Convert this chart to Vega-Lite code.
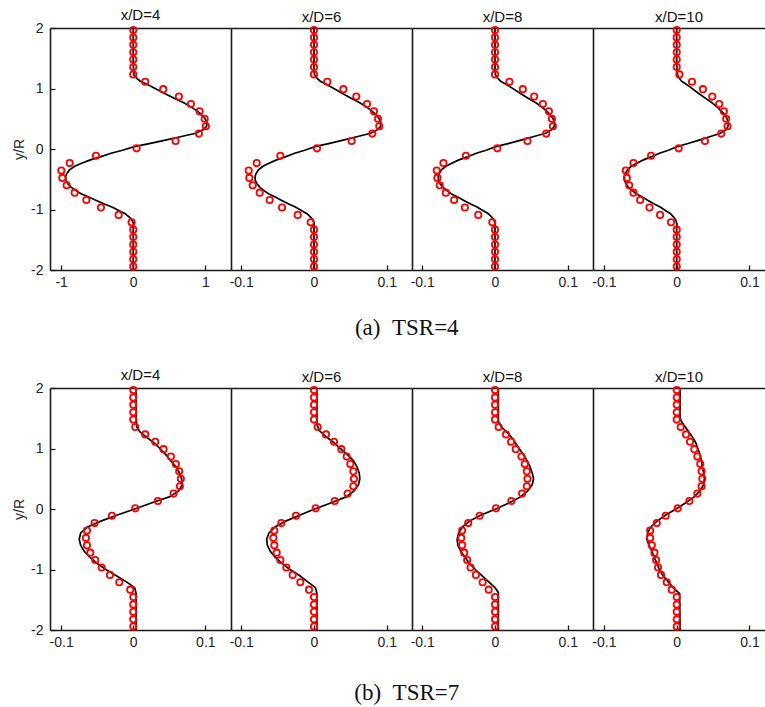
{
"$schema": "https://vega.github.io/schema/vega-lite/v6.json",
"padding": {"left": 12, "top": 8, "right": 0, "bottom": 0},
"background": "white",
"config": {
  "view": {"stroke": null},
  "title": {"font": "Liberation Sans", "fontSize": 15, "fontWeight": "normal", "color": "#111", "offset": -2},
  "axis": {"domainColor": "#1a1a1a", "domainWidth": 1.6, "tickColor": "#1a1a1a", "tickWidth": 1.3, "tickSize": -5, "labelFont": "Liberation Sans", "labelFontSize": 14, "labelColor": "#222", "labelPadding": 10, "labelFlush": false, "grid": false, "titleFont": "Liberation Sans", "titleFontSize": 14, "titleFontWeight": "normal", "titleColor": "#222"}
},
"datasets": {
"pts": [
{"t":4,"d":4,"y":1.966,"u":0},{"t":4,"d":4,"y":1.844,"u":0},{"t":4,"d":4,"y":1.722,"u":0},{"t":4,"d":4,"y":1.6,"u":0},{"t":4,"d":4,"y":1.478,"u":0},{"t":4,"d":4,"y":1.355,"u":0},{"t":4,"d":4,"y":1.233,"u":0},{"t":4,"d":4,"y":1.111,"u":0.166},{"t":4,"d":4,"y":0.989,"u":0.416},{"t":4,"d":4,"y":0.866,"u":0.633},{"t":4,"d":4,"y":0.744,"u":0.8},{"t":4,"d":4,"y":0.622,"u":0.92},{"t":4,"d":4,"y":0.5,"u":0.99},{"t":4,"d":4,"y":0.377,"u":1.007},{"t":4,"d":4,"y":0.255,"u":0.91},{"t":4,"d":4,"y":0.133,"u":0.587},{"t":4,"d":4,"y":0.011,"u":0.046},{"t":4,"d":4,"y":-0.111,"u":-0.517},{"t":4,"d":4,"y":-0.233,"u":-0.882},{"t":4,"d":4,"y":-0.355,"u":-0.998},{"t":4,"d":4,"y":-0.478,"u":-0.984},{"t":4,"d":4,"y":-0.6,"u":-0.924},{"t":4,"d":4,"y":-0.722,"u":-0.813},{"t":4,"d":4,"y":-0.844,"u":-0.651},{"t":4,"d":4,"y":-0.967,"u":-0.448},{"t":4,"d":4,"y":-1.089,"u":-0.203},{"t":4,"d":4,"y":-1.211,"u":-0.023},{"t":4,"d":4,"y":-1.333,"u":0},{"t":4,"d":4,"y":-1.455,"u":0},{"t":4,"d":4,"y":-1.578,"u":0},{"t":4,"d":4,"y":-1.7,"u":0},{"t":4,"d":4,"y":-1.822,"u":0},{"t":4,"d":4,"y":-1.944,"u":0},
{"t":4,"d":6,"y":1.966,"u":0},{"t":4,"d":6,"y":1.844,"u":0},{"t":4,"d":6,"y":1.722,"u":0},{"t":4,"d":6,"y":1.6,"u":0},{"t":4,"d":6,"y":1.478,"u":0},{"t":4,"d":6,"y":1.355,"u":0},{"t":4,"d":6,"y":1.233,"u":0},{"t":4,"d":6,"y":1.111,"u":0.0183},{"t":4,"d":6,"y":0.989,"u":0.0403},{"t":4,"d":6,"y":0.866,"u":0.0581},{"t":4,"d":6,"y":0.744,"u":0.0728},{"t":4,"d":6,"y":0.622,"u":0.0824},{"t":4,"d":6,"y":0.5,"u":0.0879},{"t":4,"d":6,"y":0.377,"u":0.0897},{"t":4,"d":6,"y":0.255,"u":0.0801},{"t":4,"d":6,"y":0.133,"u":0.0517},{"t":4,"d":6,"y":0.011,"u":0.0041},{"t":4,"d":6,"y":-0.111,"u":-0.0462},{"t":4,"d":6,"y":-0.233,"u":-0.0787},{"t":4,"d":6,"y":-0.355,"u":-0.0897},{"t":4,"d":6,"y":-0.478,"u":-0.0888},{"t":4,"d":6,"y":-0.6,"u":-0.0842},{"t":4,"d":6,"y":-0.722,"u":-0.0746},{"t":4,"d":6,"y":-0.844,"u":-0.0609},{"t":4,"d":6,"y":-0.967,"u":-0.0439},{"t":4,"d":6,"y":-1.089,"u":-0.0224},{"t":4,"d":6,"y":-1.211,"u":-0.0046},{"t":4,"d":6,"y":-1.333,"u":0},{"t":4,"d":6,"y":-1.455,"u":0},{"t":4,"d":6,"y":-1.578,"u":0},{"t":4,"d":6,"y":-1.7,"u":0},{"t":4,"d":6,"y":-1.822,"u":0},{"t":4,"d":6,"y":-1.944,"u":0},
{"t":4,"d":8,"y":1.966,"u":0},{"t":4,"d":8,"y":1.844,"u":0},{"t":4,"d":8,"y":1.722,"u":0},{"t":4,"d":8,"y":1.6,"u":0},{"t":4,"d":8,"y":1.478,"u":0},{"t":4,"d":8,"y":1.355,"u":0},{"t":4,"d":8,"y":1.233,"u":0},{"t":4,"d":8,"y":1.111,"u":0.0198},{"t":4,"d":8,"y":0.989,"u":0.0382},{"t":4,"d":8,"y":0.866,"u":0.0538},{"t":4,"d":8,"y":0.744,"u":0.0657},{"t":4,"d":8,"y":0.622,"u":0.074},{"t":4,"d":8,"y":0.5,"u":0.0782},{"t":4,"d":8,"y":0.377,"u":0.0795},{"t":4,"d":8,"y":0.255,"u":0.0703},{"t":4,"d":8,"y":0.133,"u":0.0446},{"t":4,"d":8,"y":0.011,"u":0.0032},{"t":4,"d":8,"y":-0.111,"u":-0.04},{"t":4,"d":8,"y":-0.233,"u":-0.0708},{"t":4,"d":8,"y":-0.355,"u":-0.08},{"t":4,"d":8,"y":-0.478,"u":-0.0791},{"t":4,"d":8,"y":-0.6,"u":-0.0759},{"t":4,"d":8,"y":-0.722,"u":-0.0676},{"t":4,"d":8,"y":-0.844,"u":-0.0561},{"t":4,"d":8,"y":-0.967,"u":-0.0414},{"t":4,"d":8,"y":-1.089,"u":-0.023},{"t":4,"d":8,"y":-1.211,"u":-0.0037},{"t":4,"d":8,"y":-1.333,"u":0},{"t":4,"d":8,"y":-1.455,"u":0},{"t":4,"d":8,"y":-1.578,"u":0},{"t":4,"d":8,"y":-1.7,"u":0},{"t":4,"d":8,"y":-1.822,"u":0},{"t":4,"d":8,"y":-1.944,"u":0},
{"t":4,"d":10,"y":1.966,"u":0},{"t":4,"d":10,"y":1.844,"u":0},{"t":4,"d":10,"y":1.722,"u":0},{"t":4,"d":10,"y":1.6,"u":0},{"t":4,"d":10,"y":1.478,"u":0},{"t":4,"d":10,"y":1.355,"u":0},{"t":4,"d":10,"y":1.233,"u":0.0037},{"t":4,"d":10,"y":1.111,"u":0.021},{"t":4,"d":10,"y":0.989,"u":0.036},{"t":4,"d":10,"y":0.866,"u":0.0489},{"t":4,"d":10,"y":0.744,"u":0.0584},{"t":4,"d":10,"y":0.622,"u":0.0648},{"t":4,"d":10,"y":0.5,"u":0.068},{"t":4,"d":10,"y":0.377,"u":0.0699},{"t":4,"d":10,"y":0.255,"u":0.0612},{"t":4,"d":10,"y":0.133,"u":0.0388},{"t":4,"d":10,"y":0.011,"u":0.0027},{"t":4,"d":10,"y":-0.111,"u":-0.0352},{"t":4,"d":10,"y":-0.233,"u":-0.0594},{"t":4,"d":10,"y":-0.355,"u":-0.0699},{"t":4,"d":10,"y":-0.478,"u":-0.0685},{"t":4,"d":10,"y":-0.6,"u":-0.0653},{"t":4,"d":10,"y":-0.722,"u":-0.0594},{"t":4,"d":10,"y":-0.844,"u":-0.0502},{"t":4,"d":10,"y":-0.967,"u":-0.0374},{"t":4,"d":10,"y":-1.089,"u":-0.0228},{"t":4,"d":10,"y":-1.211,"u":-0.0078},{"t":4,"d":10,"y":-1.333,"u":0},{"t":4,"d":10,"y":-1.455,"u":0},{"t":4,"d":10,"y":-1.578,"u":0},{"t":4,"d":10,"y":-1.7,"u":0},{"t":4,"d":10,"y":-1.822,"u":0},{"t":4,"d":10,"y":-1.944,"u":0},
{"t":7,"d":4,"y":1.966,"u":0},{"t":7,"d":4,"y":1.844,"u":0},{"t":7,"d":4,"y":1.722,"u":0},{"t":7,"d":4,"y":1.6,"u":0},{"t":7,"d":4,"y":1.478,"u":0},{"t":7,"d":4,"y":1.355,"u":0.0028},{"t":7,"d":4,"y":1.233,"u":0.0166},{"t":7,"d":4,"y":1.111,"u":0.0305},{"t":7,"d":4,"y":0.989,"u":0.042},{"t":7,"d":4,"y":0.866,"u":0.0522},{"t":7,"d":4,"y":0.744,"u":0.0591},{"t":7,"d":4,"y":0.622,"u":0.0637},{"t":7,"d":4,"y":0.5,"u":0.066},{"t":7,"d":4,"y":0.377,"u":0.0647},{"t":7,"d":4,"y":0.255,"u":0.0559},{"t":7,"d":4,"y":0.133,"u":0.0342},{"t":7,"d":4,"y":0.011,"u":0.0028},{"t":7,"d":4,"y":-0.111,"u":-0.0296},{"t":7,"d":4,"y":-0.233,"u":-0.0536},{"t":7,"d":4,"y":-0.355,"u":-0.0642},{"t":7,"d":4,"y":-0.478,"u":-0.0656},{"t":7,"d":4,"y":-0.6,"u":-0.0642},{"t":7,"d":4,"y":-0.722,"u":-0.0596},{"t":7,"d":4,"y":-0.844,"u":-0.0527},{"t":7,"d":4,"y":-0.967,"u":-0.0439},{"t":7,"d":4,"y":-1.089,"u":-0.0323},{"t":7,"d":4,"y":-1.211,"u":-0.0194},{"t":7,"d":4,"y":-1.333,"u":-0.0042},{"t":7,"d":4,"y":-1.455,"u":0},{"t":7,"d":4,"y":-1.578,"u":0},{"t":7,"d":4,"y":-1.7,"u":0},{"t":7,"d":4,"y":-1.822,"u":0},{"t":7,"d":4,"y":-1.944,"u":0},
{"t":7,"d":6,"y":1.966,"u":0},{"t":7,"d":6,"y":1.844,"u":0},{"t":7,"d":6,"y":1.722,"u":0},{"t":7,"d":6,"y":1.6,"u":0},{"t":7,"d":6,"y":1.478,"u":0},{"t":7,"d":6,"y":1.355,"u":0.005},{"t":7,"d":6,"y":1.233,"u":0.0165},{"t":7,"d":6,"y":1.111,"u":0.0275},{"t":7,"d":6,"y":0.989,"u":0.0375},{"t":7,"d":6,"y":0.866,"u":0.0449},{"t":7,"d":6,"y":0.744,"u":0.0499},{"t":7,"d":6,"y":0.622,"u":0.054},{"t":7,"d":6,"y":0.5,"u":0.0549},{"t":7,"d":6,"y":0.377,"u":0.054},{"t":7,"d":6,"y":0.255,"u":0.0462},{"t":7,"d":6,"y":0.133,"u":0.0284},{"t":7,"d":6,"y":0.011,"u":0.0023},{"t":7,"d":6,"y":-0.111,"u":-0.0247},{"t":7,"d":6,"y":-0.233,"u":-0.0449},{"t":7,"d":6,"y":-0.355,"u":-0.0545},{"t":7,"d":6,"y":-0.478,"u":-0.0558},{"t":7,"d":6,"y":-0.6,"u":-0.0545},{"t":7,"d":6,"y":-0.722,"u":-0.0513},{"t":7,"d":6,"y":-0.844,"u":-0.0462},{"t":7,"d":6,"y":-0.967,"u":-0.038},{"t":7,"d":6,"y":-1.089,"u":-0.0293},{"t":7,"d":6,"y":-1.211,"u":-0.0188},{"t":7,"d":6,"y":-1.333,"u":-0.0069},{"t":7,"d":6,"y":-1.455,"u":0},{"t":7,"d":6,"y":-1.578,"u":0},{"t":7,"d":6,"y":-1.7,"u":0},{"t":7,"d":6,"y":-1.822,"u":0},{"t":7,"d":6,"y":-1.944,"u":0},
{"t":7,"d":8,"y":1.966,"u":0},{"t":7,"d":8,"y":1.844,"u":0},{"t":7,"d":8,"y":1.722,"u":0},{"t":7,"d":8,"y":1.6,"u":0},{"t":7,"d":8,"y":1.478,"u":0},{"t":7,"d":8,"y":1.355,"u":0.005},{"t":7,"d":8,"y":1.233,"u":0.0152},{"t":7,"d":8,"y":1.111,"u":0.0221},{"t":7,"d":8,"y":0.989,"u":0.0285},{"t":7,"d":8,"y":0.866,"u":0.0363},{"t":7,"d":8,"y":0.744,"u":0.0409},{"t":7,"d":8,"y":0.622,"u":0.0437},{"t":7,"d":8,"y":0.5,"u":0.0446},{"t":7,"d":8,"y":0.377,"u":0.0437},{"t":7,"d":8,"y":0.255,"u":0.0372},{"t":7,"d":8,"y":0.133,"u":0.0225},{"t":7,"d":8,"y":0.011,"u":0.0014},{"t":7,"d":8,"y":-0.111,"u":-0.0211},{"t":7,"d":8,"y":-0.233,"u":-0.0368},{"t":7,"d":8,"y":-0.355,"u":-0.0451},{"t":7,"d":8,"y":-0.478,"u":-0.0464},{"t":7,"d":8,"y":-0.6,"u":-0.0451},{"t":7,"d":8,"y":-0.722,"u":-0.0423},{"t":7,"d":8,"y":-0.844,"u":-0.0382},{"t":7,"d":8,"y":-0.967,"u":-0.0336},{"t":7,"d":8,"y":-1.089,"u":-0.0262},{"t":7,"d":8,"y":-1.211,"u":-0.017},{"t":7,"d":8,"y":-1.333,"u":-0.0087},{"t":7,"d":8,"y":-1.455,"u":0},{"t":7,"d":8,"y":-1.578,"u":0},{"t":7,"d":8,"y":-1.7,"u":0},{"t":7,"d":8,"y":-1.822,"u":0},{"t":7,"d":8,"y":-1.944,"u":0},
{"t":7,"d":10,"y":1.966,"u":0},{"t":7,"d":10,"y":1.844,"u":0},{"t":7,"d":10,"y":1.722,"u":0},{"t":7,"d":10,"y":1.6,"u":0},{"t":7,"d":10,"y":1.478,"u":0},{"t":7,"d":10,"y":1.355,"u":0.0055},{"t":7,"d":10,"y":1.233,"u":0.0128},{"t":7,"d":10,"y":1.111,"u":0.0183},{"t":7,"d":10,"y":0.989,"u":0.0242},{"t":7,"d":10,"y":0.866,"u":0.0283},{"t":7,"d":10,"y":0.744,"u":0.0324},{"t":7,"d":10,"y":0.622,"u":0.0342},{"t":7,"d":10,"y":0.5,"u":0.0352},{"t":7,"d":10,"y":0.377,"u":0.0342},{"t":7,"d":10,"y":0.255,"u":0.0283},{"t":7,"d":10,"y":0.133,"u":0.0174},{"t":7,"d":10,"y":0.011,"u":0.0014},{"t":7,"d":10,"y":-0.111,"u":-0.0151},{"t":7,"d":10,"y":-0.233,"u":-0.0274},{"t":7,"d":10,"y":-0.355,"u":-0.0365},{"t":7,"d":10,"y":-0.478,"u":-0.0365},{"t":7,"d":10,"y":-0.6,"u":-0.0342},{"t":7,"d":10,"y":-0.722,"u":-0.0306},{"t":7,"d":10,"y":-0.844,"u":-0.0283},{"t":7,"d":10,"y":-0.967,"u":-0.0256},{"t":7,"d":10,"y":-1.089,"u":-0.0215},{"t":7,"d":10,"y":-1.211,"u":-0.0137},{"t":7,"d":10,"y":-1.333,"u":-0.0068},{"t":7,"d":10,"y":-1.455,"u":0},{"t":7,"d":10,"y":-1.578,"u":0},{"t":7,"d":10,"y":-1.7,"u":0},{"t":7,"d":10,"y":-1.822,"u":0},{"t":7,"d":10,"y":-1.944,"u":0}
],
"line": [
{"t":4,"d":4,"y":2,"u":0},{"t":4,"d":4,"y":1.4,"u":0},{"t":4,"d":4,"y":1.3,"u":0.005},{"t":4,"d":4,"y":1.22,"u":0.01},{"t":4,"d":4,"y":1.18,"u":0.037},{"t":4,"d":4,"y":1.12,"u":0.097},{"t":4,"d":4,"y":1.07,"u":0.19},{"t":4,"d":4,"y":1.01,"u":0.29},{"t":4,"d":4,"y":0.93,"u":0.416},{"t":4,"d":4,"y":0.84,"u":0.568},{"t":4,"d":4,"y":0.76,"u":0.707},{"t":4,"d":4,"y":0.68,"u":0.822},{"t":4,"d":4,"y":0.59,"u":0.928},{"t":4,"d":4,"y":0.51,"u":0.993},{"t":4,"d":4,"y":0.43,"u":1.025},{"t":4,"d":4,"y":0.37,"u":1.016},{"t":4,"d":4,"y":0.32,"u":0.975},{"t":4,"d":4,"y":0.26,"u":0.868},{"t":4,"d":4,"y":0.21,"u":0.684},{"t":4,"d":4,"y":0.15,"u":0.462},{"t":4,"d":4,"y":0.09,"u":0.222},{"t":4,"d":4,"y":0.04,"u":0.014},{"t":4,"d":4,"y":-0.02,"u":-0.148},{"t":4,"d":4,"y":-0.07,"u":-0.309},{"t":4,"d":4,"y":-0.13,"u":-0.457},{"t":4,"d":4,"y":-0.18,"u":-0.596},{"t":4,"d":4,"y":-0.24,"u":-0.725},{"t":4,"d":4,"y":-0.29,"u":-0.818},{"t":4,"d":4,"y":-0.35,"u":-0.887},{"t":4,"d":4,"y":-0.41,"u":-0.924},{"t":4,"d":4,"y":-0.46,"u":-0.938},{"t":4,"d":4,"y":-0.52,"u":-0.933},{"t":4,"d":4,"y":-0.57,"u":-0.91},{"t":4,"d":4,"y":-0.63,"u":-0.864},{"t":4,"d":4,"y":-0.68,"u":-0.804},{"t":4,"d":4,"y":-0.74,"u":-0.725},{"t":4,"d":4,"y":-0.79,"u":-0.624},{"t":4,"d":4,"y":-0.85,"u":-0.513},{"t":4,"d":4,"y":-0.91,"u":-0.402},{"t":4,"d":4,"y":-0.96,"u":-0.296},{"t":4,"d":4,"y":-1.02,"u":-0.194},{"t":4,"d":4,"y":-1.07,"u":-0.111},{"t":4,"d":4,"y":-1.13,"u":-0.051},{"t":4,"d":4,"y":-1.18,"u":-0.014},{"t":4,"d":4,"y":-1.24,"u":0.005},{"t":4,"d":4,"y":-1.3,"u":0},{"t":4,"d":4,"y":-2,"u":0},
{"t":4,"d":6,"y":2,"u":0},{"t":4,"d":6,"y":1.4,"u":0},{"t":4,"d":6,"y":1.3,"u":0},{"t":4,"d":6,"y":1.22,"u":0.0009},{"t":4,"d":6,"y":1.18,"u":0.0033},{"t":4,"d":6,"y":1.12,"u":0.0087},{"t":4,"d":6,"y":1.07,"u":0.017},{"t":4,"d":6,"y":1.01,"u":0.026},{"t":4,"d":6,"y":0.93,"u":0.0374},{"t":4,"d":6,"y":0.84,"u":0.051},{"t":4,"d":6,"y":0.76,"u":0.0635},{"t":4,"d":6,"y":0.68,"u":0.0738},{"t":4,"d":6,"y":0.59,"u":0.0833},{"t":4,"d":6,"y":0.51,"u":0.0891},{"t":4,"d":6,"y":0.43,"u":0.092},{"t":4,"d":6,"y":0.37,"u":0.0912},{"t":4,"d":6,"y":0.32,"u":0.0875},{"t":4,"d":6,"y":0.26,"u":0.0779},{"t":4,"d":6,"y":0.21,"u":0.0614},{"t":4,"d":6,"y":0.15,"u":0.0415},{"t":4,"d":6,"y":0.09,"u":0.02},{"t":4,"d":6,"y":0.04,"u":0.0013},{"t":4,"d":6,"y":-0.02,"u":-0.0128},{"t":4,"d":6,"y":-0.07,"u":-0.0266},{"t":4,"d":6,"y":-0.13,"u":-0.0394},{"t":4,"d":6,"y":-0.18,"u":-0.0514},{"t":4,"d":6,"y":-0.24,"u":-0.0626},{"t":4,"d":6,"y":-0.29,"u":-0.0706},{"t":4,"d":6,"y":-0.35,"u":-0.0766},{"t":4,"d":6,"y":-0.41,"u":-0.0798},{"t":4,"d":6,"y":-0.46,"u":-0.081},{"t":4,"d":6,"y":-0.52,"u":-0.0806},{"t":4,"d":6,"y":-0.57,"u":-0.0786},{"t":4,"d":6,"y":-0.63,"u":-0.0746},{"t":4,"d":6,"y":-0.68,"u":-0.0694},{"t":4,"d":6,"y":-0.74,"u":-0.0626},{"t":4,"d":6,"y":-0.79,"u":-0.0539},{"t":4,"d":6,"y":-0.85,"u":-0.0443},{"t":4,"d":6,"y":-0.91,"u":-0.0347},{"t":4,"d":6,"y":-0.96,"u":-0.0256},{"t":4,"d":6,"y":-1.02,"u":-0.0168},{"t":4,"d":6,"y":-1.07,"u":-0.0096},{"t":4,"d":6,"y":-1.13,"u":-0.0044},{"t":4,"d":6,"y":-1.18,"u":-0.0012},{"t":4,"d":6,"y":-1.24,"u":0.0004},{"t":4,"d":6,"y":-1.3,"u":0},{"t":4,"d":6,"y":-2,"u":0},
{"t":4,"d":8,"y":2,"u":0},{"t":4,"d":8,"y":1.4,"u":0},{"t":4,"d":8,"y":1.3,"u":0},{"t":4,"d":8,"y":1.22,"u":0.0008},{"t":4,"d":8,"y":1.18,"u":0.003},{"t":4,"d":8,"y":1.12,"u":0.0078},{"t":4,"d":8,"y":1.07,"u":0.0152},{"t":4,"d":8,"y":1.01,"u":0.0232},{"t":4,"d":8,"y":0.93,"u":0.0333},{"t":4,"d":8,"y":0.84,"u":0.0454},{"t":4,"d":8,"y":0.76,"u":0.0566},{"t":4,"d":8,"y":0.68,"u":0.0658},{"t":4,"d":8,"y":0.59,"u":0.0742},{"t":4,"d":8,"y":0.51,"u":0.0795},{"t":4,"d":8,"y":0.43,"u":0.082},{"t":4,"d":8,"y":0.37,"u":0.0813},{"t":4,"d":8,"y":0.32,"u":0.078},{"t":4,"d":8,"y":0.26,"u":0.0695},{"t":4,"d":8,"y":0.21,"u":0.0547},{"t":4,"d":8,"y":0.15,"u":0.037},{"t":4,"d":8,"y":0.09,"u":0.0178},{"t":4,"d":8,"y":0.04,"u":0.0011},{"t":4,"d":8,"y":-0.02,"u":-0.0123},{"t":4,"d":8,"y":-0.07,"u":-0.0257},{"t":4,"d":8,"y":-0.13,"u":-0.038},{"t":4,"d":8,"y":-0.18,"u":-0.0495},{"t":4,"d":8,"y":-0.24,"u":-0.0603},{"t":4,"d":8,"y":-0.29,"u":-0.068},{"t":4,"d":8,"y":-0.35,"u":-0.0738},{"t":4,"d":8,"y":-0.41,"u":-0.0768},{"t":4,"d":8,"y":-0.46,"u":-0.078},{"t":4,"d":8,"y":-0.52,"u":-0.0776},{"t":4,"d":8,"y":-0.57,"u":-0.0757},{"t":4,"d":8,"y":-0.63,"u":-0.0718},{"t":4,"d":8,"y":-0.68,"u":-0.0668},{"t":4,"d":8,"y":-0.74,"u":-0.0603},{"t":4,"d":8,"y":-0.79,"u":-0.0519},{"t":4,"d":8,"y":-0.85,"u":-0.0427},{"t":4,"d":8,"y":-0.91,"u":-0.0335},{"t":4,"d":8,"y":-0.96,"u":-0.0246},{"t":4,"d":8,"y":-1.02,"u":-0.0161},{"t":4,"d":8,"y":-1.07,"u":-0.0092},{"t":4,"d":8,"y":-1.13,"u":-0.0042},{"t":4,"d":8,"y":-1.18,"u":-0.0012},{"t":4,"d":8,"y":-1.24,"u":0.0004},{"t":4,"d":8,"y":-1.3,"u":0},{"t":4,"d":8,"y":-2,"u":0},
{"t":4,"d":10,"y":2,"u":0},{"t":4,"d":10,"y":1.4,"u":0},{"t":4,"d":10,"y":1.3,"u":0.0003},{"t":4,"d":10,"y":1.22,"u":0.0012},{"t":4,"d":10,"y":1.18,"u":0.003},{"t":4,"d":10,"y":1.12,"u":0.0067},{"t":4,"d":10,"y":1.07,"u":0.0131},{"t":4,"d":10,"y":1.01,"u":0.0201},{"t":4,"d":10,"y":0.93,"u":0.0288},{"t":4,"d":10,"y":0.84,"u":0.0393},{"t":4,"d":10,"y":0.76,"u":0.049},{"t":4,"d":10,"y":0.68,"u":0.0569},{"t":4,"d":10,"y":0.59,"u":0.0643},{"t":4,"d":10,"y":0.51,"u":0.0688},{"t":4,"d":10,"y":0.43,"u":0.071},{"t":4,"d":10,"y":0.37,"u":0.0704},{"t":4,"d":10,"y":0.32,"u":0.0675},{"t":4,"d":10,"y":0.26,"u":0.0601},{"t":4,"d":10,"y":0.21,"u":0.0474},{"t":4,"d":10,"y":0.15,"u":0.032},{"t":4,"d":10,"y":0.09,"u":0.0154},{"t":4,"d":10,"y":0.04,"u":0.001},{"t":4,"d":10,"y":-0.02,"u":-0.0114},{"t":4,"d":10,"y":-0.07,"u":-0.0237},{"t":4,"d":10,"y":-0.13,"u":-0.0351},{"t":4,"d":10,"y":-0.18,"u":-0.0457},{"t":4,"d":10,"y":-0.24,"u":-0.0557},{"t":4,"d":10,"y":-0.29,"u":-0.0628},{"t":4,"d":10,"y":-0.35,"u":-0.0681},{"t":4,"d":10,"y":-0.41,"u":-0.0709},{"t":4,"d":10,"y":-0.46,"u":-0.072},{"t":4,"d":10,"y":-0.52,"u":-0.0716},{"t":4,"d":10,"y":-0.57,"u":-0.0698},{"t":4,"d":10,"y":-0.63,"u":-0.0663},{"t":4,"d":10,"y":-0.68,"u":-0.0617},{"t":4,"d":10,"y":-0.74,"u":-0.0557},{"t":4,"d":10,"y":-0.79,"u":-0.0479},{"t":4,"d":10,"y":-0.85,"u":-0.0394},{"t":4,"d":10,"y":-0.91,"u":-0.0309},{"t":4,"d":10,"y":-0.96,"u":-0.0228},{"t":4,"d":10,"y":-1.02,"u":-0.0149},{"t":4,"d":10,"y":-1.07,"u":-0.0085},{"t":4,"d":10,"y":-1.13,"u":-0.0039},{"t":4,"d":10,"y":-1.18,"u":-0.0011},{"t":4,"d":10,"y":-1.24,"u":0.0004},{"t":4,"d":10,"y":-1.3,"u":0},{"t":4,"d":10,"y":-2,"u":0},
{"t":7,"d":4,"y":2,"u":0.004},{"t":7,"d":4,"y":1.5,"u":0.004},{"t":7,"d":4,"y":1.35,"u":0.005},{"t":7,"d":4,"y":1.28,"u":0.009},{"t":7,"d":4,"y":1.2,"u":0.017},{"t":7,"d":4,"y":1.1,"u":0.028},{"t":7,"d":4,"y":1.0,"u":0.037},{"t":7,"d":4,"y":0.9,"u":0.045},{"t":7,"d":4,"y":0.8,"u":0.052},{"t":7,"d":4,"y":0.7,"u":0.059},{"t":7,"d":4,"y":0.6,"u":0.064},{"t":7,"d":4,"y":0.5,"u":0.067},{"t":7,"d":4,"y":0.4,"u":0.068},{"t":7,"d":4,"y":0.3,"u":0.063},{"t":7,"d":4,"y":0.2,"u":0.05},{"t":7,"d":4,"y":0.1,"u":0.025},{"t":7,"d":4,"y":0.0,"u":0.002},{"t":7,"d":4,"y":-0.1,"u":-0.022},{"t":7,"d":4,"y":-0.2,"u":-0.045},{"t":7,"d":4,"y":-0.3,"u":-0.064},{"t":7,"d":4,"y":-0.4,"u":-0.073},{"t":7,"d":4,"y":-0.5,"u":-0.075},{"t":7,"d":4,"y":-0.6,"u":-0.073},{"t":7,"d":4,"y":-0.7,"u":-0.068},{"t":7,"d":4,"y":-0.8,"u":-0.06},{"t":7,"d":4,"y":-0.9,"u":-0.05},{"t":7,"d":4,"y":-1.0,"u":-0.038},{"t":7,"d":4,"y":-1.1,"u":-0.024},{"t":7,"d":4,"y":-1.2,"u":-0.01},{"t":7,"d":4,"y":-1.3,"u":0.002},{"t":7,"d":4,"y":-1.4,"u":0.004},{"t":7,"d":4,"y":-2,"u":0.004},
{"t":7,"d":6,"y":2,"u":0.004},{"t":7,"d":6,"y":1.4,"u":0.004},{"t":7,"d":6,"y":1.3,"u":0.007},{"t":7,"d":6,"y":1.2,"u":0.016},{"t":7,"d":6,"y":1.1,"u":0.027},{"t":7,"d":6,"y":1.0,"u":0.036},{"t":7,"d":6,"y":0.9,"u":0.046},{"t":7,"d":6,"y":0.8,"u":0.054},{"t":7,"d":6,"y":0.7,"u":0.059},{"t":7,"d":6,"y":0.6,"u":0.062},{"t":7,"d":6,"y":0.5,"u":0.063},{"t":7,"d":6,"y":0.4,"u":0.061},{"t":7,"d":6,"y":0.3,"u":0.055},{"t":7,"d":6,"y":0.2,"u":0.044},{"t":7,"d":6,"y":0.1,"u":0.023},{"t":7,"d":6,"y":0.0,"u":0.001},{"t":7,"d":6,"y":-0.1,"u":-0.019},{"t":7,"d":6,"y":-0.2,"u":-0.039},{"t":7,"d":6,"y":-0.3,"u":-0.054},{"t":7,"d":6,"y":-0.4,"u":-0.062},{"t":7,"d":6,"y":-0.5,"u":-0.065},{"t":7,"d":6,"y":-0.6,"u":-0.064},{"t":7,"d":6,"y":-0.7,"u":-0.06},{"t":7,"d":6,"y":-0.8,"u":-0.053},{"t":7,"d":6,"y":-0.9,"u":-0.044},{"t":7,"d":6,"y":-1.0,"u":-0.033},{"t":7,"d":6,"y":-1.1,"u":-0.02},{"t":7,"d":6,"y":-1.2,"u":-0.009},{"t":7,"d":6,"y":-1.3,"u":0.002},{"t":7,"d":6,"y":-1.4,"u":0.004},{"t":7,"d":6,"y":-2,"u":0.004},
{"t":7,"d":8,"y":2,"u":0.0046},{"t":7,"d":8,"y":1.45,"u":0.0046},{"t":7,"d":8,"y":1.35,"u":0.009},{"t":7,"d":8,"y":1.25,"u":0.018},{"t":7,"d":8,"y":1.15,"u":0.025},{"t":7,"d":8,"y":1.0,"u":0.033},{"t":7,"d":8,"y":0.9,"u":0.039},{"t":7,"d":8,"y":0.8,"u":0.044},{"t":7,"d":8,"y":0.7,"u":0.048},{"t":7,"d":8,"y":0.6,"u":0.051},{"t":7,"d":8,"y":0.5,"u":0.053},{"t":7,"d":8,"y":0.4,"u":0.051},{"t":7,"d":8,"y":0.3,"u":0.045},{"t":7,"d":8,"y":0.2,"u":0.035},{"t":7,"d":8,"y":0.1,"u":0.019},{"t":7,"d":8,"y":0.0,"u":0.001},{"t":7,"d":8,"y":-0.1,"u":-0.019},{"t":7,"d":8,"y":-0.2,"u":-0.035},{"t":7,"d":8,"y":-0.3,"u":-0.045},{"t":7,"d":8,"y":-0.4,"u":-0.05},{"t":7,"d":8,"y":-0.5,"u":-0.052},{"t":7,"d":8,"y":-0.6,"u":-0.051},{"t":7,"d":8,"y":-0.7,"u":-0.047},{"t":7,"d":8,"y":-0.8,"u":-0.041},{"t":7,"d":8,"y":-0.9,"u":-0.035},{"t":7,"d":8,"y":-1.0,"u":-0.027},{"t":7,"d":8,"y":-1.1,"u":-0.018},{"t":7,"d":8,"y":-1.2,"u":-0.009},{"t":7,"d":8,"y":-1.3,"u":0.0},{"t":7,"d":8,"y":-1.38,"u":0.0046},{"t":7,"d":8,"y":-2,"u":0.0046},
{"t":7,"d":10,"y":2,"u":0.0046},{"t":7,"d":10,"y":1.5,"u":0.0046},{"t":7,"d":10,"y":1.42,"u":0.0078},{"t":7,"d":10,"y":1.3,"u":0.015},{"t":7,"d":10,"y":1.2,"u":0.021},{"t":7,"d":10,"y":1.1,"u":0.026},{"t":7,"d":10,"y":1.0,"u":0.029},{"t":7,"d":10,"y":0.9,"u":0.032},{"t":7,"d":10,"y":0.8,"u":0.034},{"t":7,"d":10,"y":0.7,"u":0.035},{"t":7,"d":10,"y":0.6,"u":0.037},{"t":7,"d":10,"y":0.5,"u":0.038},{"t":7,"d":10,"y":0.4,"u":0.037},{"t":7,"d":10,"y":0.3,"u":0.032},{"t":7,"d":10,"y":0.2,"u":0.024},{"t":7,"d":10,"y":0.1,"u":0.012},{"t":7,"d":10,"y":0.0,"u":-0.001},{"t":7,"d":10,"y":-0.1,"u":-0.015},{"t":7,"d":10,"y":-0.2,"u":-0.027},{"t":7,"d":10,"y":-0.3,"u":-0.036},{"t":7,"d":10,"y":-0.4,"u":-0.04},{"t":7,"d":10,"y":-0.5,"u":-0.041},{"t":7,"d":10,"y":-0.6,"u":-0.038},{"t":7,"d":10,"y":-0.7,"u":-0.034},{"t":7,"d":10,"y":-0.8,"u":-0.031},{"t":7,"d":10,"y":-0.9,"u":-0.027},{"t":7,"d":10,"y":-1.0,"u":-0.024},{"t":7,"d":10,"y":-1.1,"u":-0.019},{"t":7,"d":10,"y":-1.2,"u":-0.012},{"t":7,"d":10,"y":-1.3,"u":-0.005},{"t":7,"d":10,"y":-1.4,"u":0.004},{"t":7,"d":10,"y":-2,"u":0.0046}
]
},
"spacing": 28,
"vconcat": [
{
 "spacing": 0, "bounds": "flush",
 "title": {"text": "(a)\u00a0\u00a0TSR=4", "orient": "bottom", "anchor": "middle", "dx": 18, "font": "Liberation Serif", "fontSize": 23, "fontWeight": "normal", "color": "#111", "offset": 28},
 "hconcat": [
  {"width": 181, "height": 242, "title": "x/D=4",
   "encoding": {"y": {"field": "y", "type": "quantitative", "scale": {"domain": [-2, 2], "nice": false, "zero": false}, "axis": {"values": [-2, -1, 0, 1, 2], "labelExpr": "'' + datum.value", "title": "y/R", "labelPadding": 12, "titlePadding": 4}}},
   "layer": [
    {"data": {"name": "line"}, "transform": [{"filter": "datum.t == 4 && datum.d == 4"}], "mark": {"type": "line", "color": "#000", "strokeWidth": 1.7},
     "encoding": {"x": {"field": "u", "type": "quantitative", "scale": {"domain": [-1.155, 1.356], "nice": false, "zero": false}, "axis": {"orient": "bottom", "values": [-1, 0, 1], "labelExpr": "'' + datum.value", "title": null}},
      "order": {"field": "y", "type": "quantitative", "sort": "descending"}}},
    {"data": {"name": "pts"}, "transform": [{"filter": "datum.t == 4 && datum.d == 4"}], "mark": {"type": "point", "shape": "circle", "filled": false, "color": "#ff0000", "strokeWidth": 1.8, "size": 40, "opacity": 1},
     "encoding": {"x": {"field": "u", "type": "quantitative", "axis": {"orient": "top", "labels": false, "ticks": false, "title": null}}}}
  ]},
  {"width": 181, "height": 242, "title": "x/D=6",
   "encoding": {"y": {"field": "y", "type": "quantitative", "scale": {"domain": [-2, 2], "nice": false, "zero": false}, "axis": {"labels": false, "ticks": false, "title": null}}},
   "layer": [
    {"data": {"name": "line"}, "transform": [{"filter": "datum.t == 4 && datum.d == 6"}], "mark": {"type": "line", "color": "#000", "strokeWidth": 1.7},
     "encoding": {"x": {"field": "u", "type": "quantitative", "scale": {"domain": [-0.114, 0.1346], "nice": false, "zero": false}, "axis": {"orient": "bottom", "values": [-0.1, 0, 0.1], "labelExpr": "'' + datum.value", "title": null}},
      "order": {"field": "y", "type": "quantitative", "sort": "descending"}}},
    {"data": {"name": "pts"}, "transform": [{"filter": "datum.t == 4 && datum.d == 6"}], "mark": {"type": "point", "shape": "circle", "filled": false, "color": "#ff0000", "strokeWidth": 1.8, "size": 40, "opacity": 1},
     "encoding": {"x": {"field": "u", "type": "quantitative", "axis": {"orient": "top", "labels": false, "ticks": false, "title": null}}}}
  ]},
  {"width": 181, "height": 242, "title": "x/D=8",
   "encoding": {"y": {"field": "y", "type": "quantitative", "scale": {"domain": [-2, 2], "nice": false, "zero": false}, "axis": {"labels": false, "ticks": false, "title": null}}},
   "layer": [
    {"data": {"name": "line"}, "transform": [{"filter": "datum.t == 4 && datum.d == 8"}], "mark": {"type": "line", "color": "#000", "strokeWidth": 1.7},
     "encoding": {"x": {"field": "u", "type": "quantitative", "scale": {"domain": [-0.114, 0.1346], "nice": false, "zero": false}, "axis": {"orient": "bottom", "values": [-0.1, 0, 0.1], "labelExpr": "'' + datum.value", "title": null}},
      "order": {"field": "y", "type": "quantitative", "sort": "descending"}}},
    {"data": {"name": "pts"}, "transform": [{"filter": "datum.t == 4 && datum.d == 8"}], "mark": {"type": "point", "shape": "circle", "filled": false, "color": "#ff0000", "strokeWidth": 1.8, "size": 40, "opacity": 1},
     "encoding": {"x": {"field": "u", "type": "quantitative", "axis": {"orient": "top", "labels": false, "ticks": false, "title": null}}}}
  ]},
  {"width": 172, "height": 242, "title": "x/D=10",
   "encoding": {"y": {"field": "y", "type": "quantitative", "scale": {"domain": [-2, 2], "nice": false, "zero": false}, "axis": {"labels": false, "ticks": false, "title": null}}},
   "layer": [
    {"data": {"name": "line"}, "transform": [{"filter": "datum.t == 4 && datum.d == 10"}], "mark": {"type": "line", "color": "#000", "strokeWidth": 1.7},
     "encoding": {"x": {"field": "u", "type": "quantitative", "scale": {"domain": [-0.115, 0.1213], "nice": false, "zero": false}, "axis": {"orient": "bottom", "values": [-0.1, 0, 0.1], "labelExpr": "'' + datum.value", "title": null}},
      "order": {"field": "y", "type": "quantitative", "sort": "descending"}}},
    {"data": {"name": "pts"}, "transform": [{"filter": "datum.t == 4 && datum.d == 10"}], "mark": {"type": "point", "shape": "circle", "filled": false, "color": "#ff0000", "strokeWidth": 1.8, "size": 40, "opacity": 1},
     "encoding": {"x": {"field": "u", "type": "quantitative", "axis": {"orient": "top", "labels": false, "ticks": false, "title": null}}}}
  ]}
 ]
},
{
 "spacing": 0, "bounds": "flush",
 "title": {"text": "(b)\u00a0\u00a0TSR=7", "orient": "bottom", "anchor": "middle", "dx": 18, "font": "Liberation Serif", "fontSize": 23, "fontWeight": "normal", "color": "#111", "offset": 33},
 "hconcat": [
  {"width": 181, "height": 242, "title": "x/D=4",
   "encoding": {"y": {"field": "y", "type": "quantitative", "scale": {"domain": [-2, 2], "nice": false, "zero": false}, "axis": {"values": [-2, -1, 0, 1, 2], "labelExpr": "'' + datum.value", "title": "y/R", "labelPadding": 12, "titlePadding": 4}}},
   "layer": [
    {"data": {"name": "line"}, "transform": [{"filter": "datum.t == 7 && datum.d == 4"}], "mark": {"type": "line", "color": "#000", "strokeWidth": 1.7},
     "encoding": {"x": {"field": "u", "type": "quantitative", "scale": {"domain": [-0.1155, 0.1356], "nice": false, "zero": false}, "axis": {"orient": "bottom", "values": [-0.1, 0, 0.1], "labelExpr": "'' + datum.value", "title": null}},
      "order": {"field": "y", "type": "quantitative", "sort": "descending"}}},
    {"data": {"name": "pts"}, "transform": [{"filter": "datum.t == 7 && datum.d == 4"}], "mark": {"type": "point", "shape": "circle", "filled": false, "color": "#ff0000", "strokeWidth": 1.8, "size": 40, "opacity": 1},
     "encoding": {"x": {"field": "u", "type": "quantitative", "axis": {"orient": "top", "labels": false, "ticks": false, "title": null}}}}
  ]},
  {"width": 181, "height": 242, "title": "x/D=6",
   "encoding": {"y": {"field": "y", "type": "quantitative", "scale": {"domain": [-2, 2], "nice": false, "zero": false}, "axis": {"labels": false, "ticks": false, "title": null}}},
   "layer": [
    {"data": {"name": "line"}, "transform": [{"filter": "datum.t == 7 && datum.d == 6"}], "mark": {"type": "line", "color": "#000", "strokeWidth": 1.7},
     "encoding": {"x": {"field": "u", "type": "quantitative", "scale": {"domain": [-0.114, 0.1346], "nice": false, "zero": false}, "axis": {"orient": "bottom", "values": [-0.1, 0, 0.1], "labelExpr": "'' + datum.value", "title": null}},
      "order": {"field": "y", "type": "quantitative", "sort": "descending"}}},
    {"data": {"name": "pts"}, "transform": [{"filter": "datum.t == 7 && datum.d == 6"}], "mark": {"type": "point", "shape": "circle", "filled": false, "color": "#ff0000", "strokeWidth": 1.8, "size": 40, "opacity": 1},
     "encoding": {"x": {"field": "u", "type": "quantitative", "axis": {"orient": "top", "labels": false, "ticks": false, "title": null}}}}
  ]},
  {"width": 181, "height": 242, "title": "x/D=8",
   "encoding": {"y": {"field": "y", "type": "quantitative", "scale": {"domain": [-2, 2], "nice": false, "zero": false}, "axis": {"labels": false, "ticks": false, "title": null}}},
   "layer": [
    {"data": {"name": "line"}, "transform": [{"filter": "datum.t == 7 && datum.d == 8"}], "mark": {"type": "line", "color": "#000", "strokeWidth": 1.7},
     "encoding": {"x": {"field": "u", "type": "quantitative", "scale": {"domain": [-0.114, 0.1346], "nice": false, "zero": false}, "axis": {"orient": "bottom", "values": [-0.1, 0, 0.1], "labelExpr": "'' + datum.value", "title": null}},
      "order": {"field": "y", "type": "quantitative", "sort": "descending"}}},
    {"data": {"name": "pts"}, "transform": [{"filter": "datum.t == 7 && datum.d == 8"}], "mark": {"type": "point", "shape": "circle", "filled": false, "color": "#ff0000", "strokeWidth": 1.8, "size": 40, "opacity": 1},
     "encoding": {"x": {"field": "u", "type": "quantitative", "axis": {"orient": "top", "labels": false, "ticks": false, "title": null}}}}
  ]},
  {"width": 172, "height": 242, "title": "x/D=10",
   "encoding": {"y": {"field": "y", "type": "quantitative", "scale": {"domain": [-2, 2], "nice": false, "zero": false}, "axis": {"labels": false, "ticks": false, "title": null}}},
   "layer": [
    {"data": {"name": "line"}, "transform": [{"filter": "datum.t == 7 && datum.d == 10"}], "mark": {"type": "line", "color": "#000", "strokeWidth": 1.7},
     "encoding": {"x": {"field": "u", "type": "quantitative", "scale": {"domain": [-0.115, 0.1213], "nice": false, "zero": false}, "axis": {"orient": "bottom", "values": [-0.1, 0, 0.1], "labelExpr": "'' + datum.value", "title": null}},
      "order": {"field": "y", "type": "quantitative", "sort": "descending"}}},
    {"data": {"name": "pts"}, "transform": [{"filter": "datum.t == 7 && datum.d == 10"}], "mark": {"type": "point", "shape": "circle", "filled": false, "color": "#ff0000", "strokeWidth": 1.8, "size": 40, "opacity": 1},
     "encoding": {"x": {"field": "u", "type": "quantitative", "axis": {"orient": "top", "labels": false, "ticks": false, "title": null}}}}
  ]}
 ]
}
]
}
